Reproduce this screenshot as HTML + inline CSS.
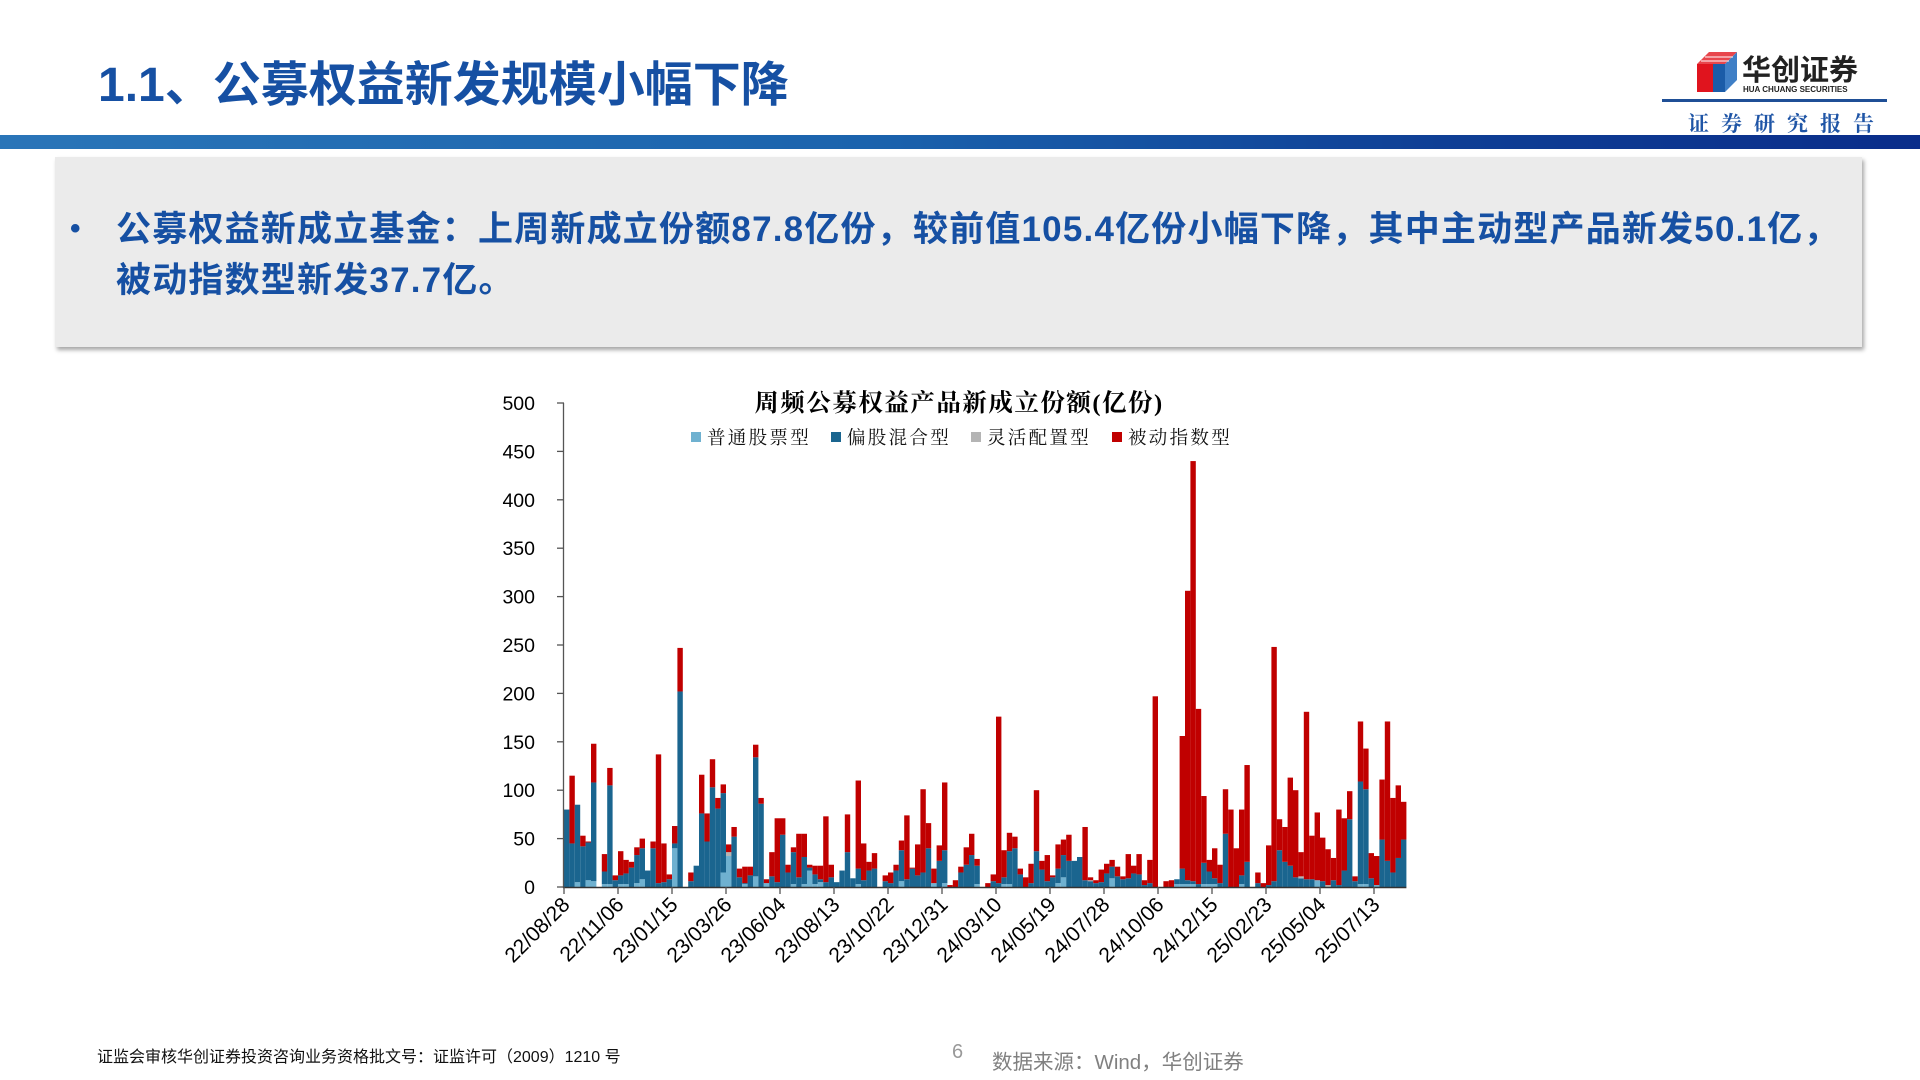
<!DOCTYPE html>
<html lang="zh">
<head>
<meta charset="utf-8">
<title>公募权益新发规模小幅下降</title>
<style>
  html,body{margin:0;padding:0;}
  body{width:1920px;height:1080px;position:relative;background:#fff;overflow:hidden;
       font-family:"Liberation Sans","Noto Sans CJK SC",sans-serif;}
  .title{position:absolute;left:98px;top:45px;font-size:48px;font-weight:bold;color:#1650a3;
         white-space:nowrap;font-family:"Liberation Sans","Noto Sans CJK SC",sans-serif;}
  .band{position:absolute;left:0;top:135px;width:1920px;height:14px;
        background:linear-gradient(90deg,#2a75b8 0%,#1b63ad 45%,#0f3f95 75%,#0a2d8a 100%);}
  .logo-line{position:absolute;left:1662px;top:99px;width:225px;height:3px;background:#1f4f96;}
  .logo-icon{position:absolute;left:1697px;top:52px;width:40px;height:40px;}
  .logo-cn{position:absolute;left:1742px;top:47px;font-size:29px;font-weight:bold;color:#222;white-space:nowrap;}
  .logo-en{position:absolute;left:1743px;top:85px;font-size:8px;font-weight:bold;color:#222;white-space:nowrap;}
  .report{position:absolute;left:1688px;top:108px;font-size:21px;color:#1f55a6;letter-spacing:12px;white-space:nowrap;
          font-family:"Liberation Serif","Noto Serif CJK SC",serif;font-weight:bold;}
  .box{position:absolute;left:55px;top:157px;width:1807px;height:190px;background:#ebebeb;
       box-shadow:2px 3px 4px rgba(0,0,0,0.35);}
  .bullet{position:absolute;left:70px;top:212px;font-size:30px;color:#1650a3;font-weight:bold;}
  .btext{position:absolute;left:116px;font-size:35px;font-weight:bold;color:#1650a3;white-space:nowrap;letter-spacing:1.2px;
         font-family:"Liberation Sans","Noto Sans CJK SC",sans-serif;}
  .foot-left{position:absolute;left:97px;top:1043px;font-size:16px;color:#111;white-space:nowrap;}
  .page-num{position:absolute;left:952px;top:1041px;font-size:20px;color:#999;}
  .source{position:absolute;left:992px;top:1045px;font-size:20.5px;color:#808080;white-space:nowrap;}
  svg{position:absolute;left:0;top:0;}
</style>
</head>
<body>
<div class="title">1.1、公募权益新发规模小幅下降</div>
<div class="band"></div>

<svg class="logo-icon" width="40" height="40" viewBox="0 0 40 40">
  <polygon points="0,12 12,0 40,0 28,12" fill="#e8464c"/>
  <polygon points="0,12 16,12 16,40 0,40" fill="#e0141e"/>
  <polygon points="16,12 28,12 28,40 16,40" fill="#1b5ca8"/>
  <polygon points="28,12 40,0 40,28 28,40" fill="#3f7fc6"/>
  <line x1="4" y1="9" x2="32" y2="9" stroke="#fff" stroke-width="1"/>
  <line x1="8" y1="5" x2="36" y2="5" stroke="#fff" stroke-width="1"/>
</svg>
<div class="logo-cn">华创证券</div>
<div class="logo-en">HUA CHUANG SECURITIES</div>
<div class="logo-line"></div>
<div class="report">证券研究报告</div>

<div class="box"></div>
<div class="bullet">•</div>
<div class="btext" style="top:201px">公募权益新成立基金：上周新成立份额87.8亿份，较前值105.4亿份小幅下降，其中主动型产品新发50.1亿，</div>
<div class="btext" style="top:252px">被动指数型新发37.7亿。</div>

<svg id="chart" width="1920" height="1080" viewBox="0 0 1920 1080"></svg>

<div class="foot-left">证监会审核华创证券投资咨询业务资格批文号：证监许可（2009）1210 号</div>
<div class="page-num">6</div>
<div class="source">数据来源：Wind，华创证券</div>

<script>
// ---- chart data (亿份, weekly) ----
const stockFund = [0,0,5,0,7,6,0,3,3,0, 3,3,0,4,8,0,0,0,0,0, 40,0,0,0,0,0,0,0,0,15, 32,0,0,3,0,11,0,4,0,0, 0,0,3,0,3,17,3,5,0,0, 0,0,0,0,3,0,0,0,0,0, 0,0,6,0,0,0,0,0,4,0, 4,0,0,0,0,0,3,0,0,0, 0,3,3,0,0,0,0,0,0,0, 0,4,10,0,0,0,0,0,0,0, 0,9,0,0,0,0,0,0,0,0, 0,0,0,3,3,3,3,0,3,3, 3,0,0,0,0,3,0,0,0,0, 0,0,0,0,0,0,0,0,0,7, 0,0,0,0,0,0,0,3,3,0, 2,0,0,0,0,0];
const mixedFund = [80,45,80,42,39,102,0,13,102,7, 9,11,20,29,32,17,40,4,5,8, 5,202,0,6,22,76,47,103,81,82, 0,52,10,1,12,123,86,0,11,5, 54,15,33,10,28,3,10,3,5,10, 5,17,36,9,16,7,17,19,0,6, 4,17,32,8,19,12,15,40,0,27, 34,0,0,15,23,33,19,0,0,6, 4,7,34,40,13,0,4,37,18,6, 10,15,23,27,27,31,7,6,4,5, 14,12,11,8,9,14,13,2,4,0, 0,0,0,5,16,4,3,3,22,13, 6,4,55,0,0,9,26,0,4,0, 2,6,38,26,22,10,9,8,8,0, 6,0,7,2,17,70,6,106,98,9, 0,49,27,15,30,49];
const flexibleFund = [0,0,0,0,0,0,0,0,0,0, 0,0,0,0,0,0,0,0,0,0, 0,0,0,0,0,0,0,0,0,0, 4,0,0,0,0,0,0,0,0,0, 0,0,0,0,0,0,0,0,0,0, 0,0,0,0,0,0,0,0,0,0, 0,0,0,0,0,0,0,0,0,0, 0,0,0,0,0,0,0,0,0,0, 0,0,0,0,0,0,0,0,0,0, 0,0,0,0,0,0,0,1,0,0, 0,0,0,0,0,0,0,0,0,0, 0,0,0,0,0,0,0,0,0,0, 0,0,0,0,0,0,0,0,0,0, 0,0,0,0,0,0,2,0,0,0, 0,2,0,0,0,0,0,0,0,0, 0,0,0,0,0,0];
const passiveFund = [0,70,0,11,1,40,0,18,18,5, 25,14,6,8,10,0,7,133,40,5, 18,45,0,9,0,40,29,29,11,9, 8,10,9,17,9,13,6,4,25,66, 17,8,5,45,24,3,9,14,68,13, 0,0,39,0,91,38,9,16,0,6, 11,6,10,66,1,32,86,26,15,16, 70,2,7,6,18,22,7,0,4,7, 172,28,19,12,6,10,20,63,9,27, 2,25,16,27,0,0,55,3,3,13, 10,7,10,3,25,8,21,5,24,197, 0,6,7,0,137,299,434,181,69,12, 31,19,46,80,40,68,100,0,11,4, 41,242,32,36,91,90,25,173,45,70, 45,37,23,78,54,29,5,62,42,26, 30,62,144,77,75,39];
const dateLabels = ["22/08/28","22/11/06","23/01/15","23/03/26","23/06/04","23/08/13","23/10/22","23/12/31","24/03/10","24/05/19","24/07/28","24/10/06","24/12/15","25/02/23","25/05/04","25/07/13"];
const yTicks = [0,50,100,150,200,250,300,350,400,450,500];
const seriesNames = ["普通股票型","偏股混合型","灵活配置型","被动指数型"];

const NS = "http://www.w3.org/2000/svg";
const svg = document.getElementById('chart');
const X0 = 564, BW = 5.4, Y0 = 887, YMAX = 500, YTOP = 403;
const colors = ["#6fb1d0","#1a658f","#b4b4b4","#c00000"];
const series = [stockFund, mixedFund, flexibleFund, passiveFund];
const keys = ['stock','mixed','flexible','passive'];
function xScale(i){ return X0 + i*BW; }
function yScale(v){ return Y0 - v*(Y0-YTOP)/YMAX; }
function mk(tag, attrs){ const e=document.createElementNS(NS,tag); for(const k in attrs) e.setAttribute(k,attrs[k]); svg.appendChild(e); return e; }

// bars
const n = passiveFund.length;
for(let i=0;i<n;i++){
  let base = 0;
  for(let s=0;s<4;s++){
    const v = series[s][i];
    if(v>0){
      const r = mk('rect',{x:xScale(i),y:yScale(base+v),width:BW,height:yScale(base)-yScale(base+v),fill:colors[s]});
      
      
    }
    base += v;
  }
}

// y axis
const ya = mk('line',{x1:563.5,y1:YTOP,x2:563.5,y2:Y0+1,stroke:'#555','stroke-width':1.3});


yTicks.forEach(v=>{
  const y = yScale(v);
  const t = mk('line',{x1:557,y1:y,x2:564,y2:y,stroke:'#555','stroke-width':1.3});
  
  
  const lb = mk('text',{x:535,y:y+7,'text-anchor':'end','font-size':19.5,fill:'#000','font-family':'Liberation Sans, sans-serif'});
  lb.textContent = v;
  
  
});

// x axis
const xa = mk('line',{x1:563,y1:Y0+0.5,x2:xScale(n),y2:Y0+0.5,stroke:'#333','stroke-width':1.5});


dateLabels.forEach((d,k)=>{
  const x = xScale(k*10);
  const t = mk('line',{x1:x,y1:Y0,x2:x,y2:Y0+7,stroke:'#555','stroke-width':1.3});
  
  
  const lb = mk('text',{x:x+7,y:Y0+19,'text-anchor':'end','font-size':21,fill:'#000','font-family':'Liberation Sans, sans-serif',transform:'rotate(-45 '+(x+7)+' '+(Y0+19)+')'});
  lb.textContent = d;
  
  
});

// title
const ct = mk('text',{x:959,y:411,'text-anchor':'middle','font-size':24.5,'font-weight':'bold',fill:'#000','font-family':'Liberation Serif, Noto Serif CJK SC, serif','letter-spacing':1.5});
ct.textContent = '周频公募权益产品新成立份额(亿份)';



// legend
const legX = [691, 831, 971, 1112];
seriesNames.forEach((nm,s)=>{
  const sq = mk('rect',{x:legX[s],y:432,width:10,height:10,fill:colors[s]});
  
  
  const tx = mk('text',{x:legX[s]+16,y:444,'font-size':18.5,fill:'#111','font-family':'Liberation Serif, Noto Serif CJK SC, serif','letter-spacing':2.3});
  tx.textContent = nm;
  
  
});
</script>
</body>
</html>
